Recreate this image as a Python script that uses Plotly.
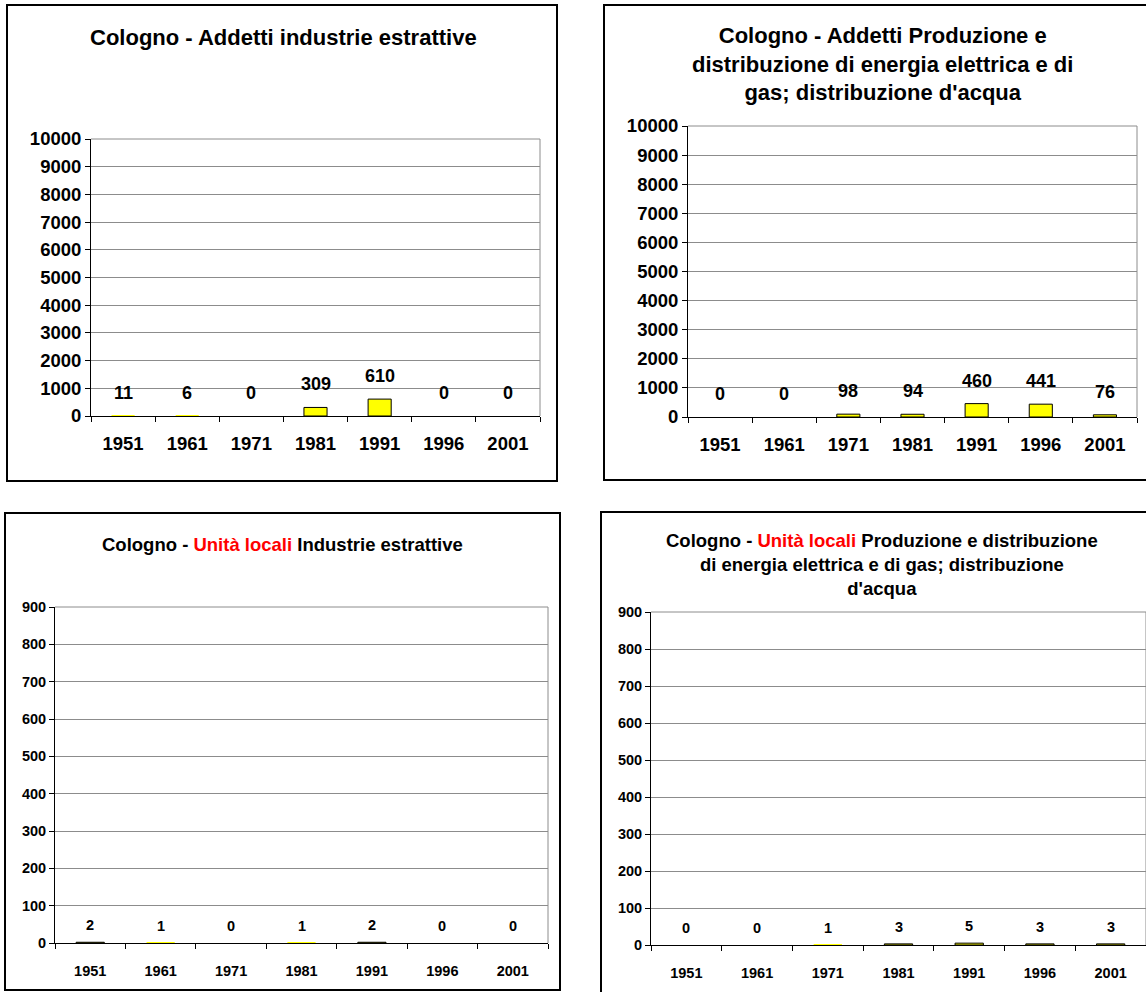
import plotly.graph_objects as go

# Census years and values for Cologno
years = ["1951", "1961", "1971", "1981", "1991", "1996", "2001"]
addetti_estrattive = [11, 6, 0, 309, 610, 0, 0]
addetti_energia = [0, 0, 98, 94, 460, 441, 76]
unita_estrattive = [2, 1, 0, 1, 2, 0, 0]
unita_energia = [0, 0, 1, 3, 5, 3, 3]

title_addetti_estrattive = "Cologno - Addetti industrie estrattive"
title_addetti_energia = ("Cologno - Addetti Produzione e<br>"
                         "distribuzione di energia elettrica e di<br>"
                         "gas; distribuzione d'acqua")
title_unita_estrattive = ("Cologno - <span style='color:#ff0000'>Unità locali</span> "
                          "Industrie estrattive")
title_unita_energia = ("Cologno - <span style='color:#ff0000'>Unità locali</span> "
                       "Produzione e distribuzione<br>"
                       "di energia elettrica e di gas; distribuzione<br>d'acqua")

W, H = 1146, 992
FONT = "Liberation Sans, Arial, sans-serif"

# one slot per census year on the horizontal axis
slots = list(range(len(years)))
boundaries = [s - 0.5 for s in slots] + [slots[-1] + 0.5]

# Layout of each panel in pixels
panels = [
    dict(values=addetti_estrattive, title=title_addetti_estrattive, ymax=10000, dtick=1000,
         plot=(91, 139, 540, 416), box=(7, 5, 557, 481), title_xy=(283, 37),
         title_size=22, tick_size=18.5, label_size=18, label_shift=23, bargap=0.64,
         xstandoff=11),
    dict(values=addetti_energia, title=title_addetti_energia, ymax=10000, dtick=1000,
         plot=(688, 126, 1137, 417), box=(604, 5, 1152, 480), title_xy=(882, 64),
         title_size=22, tick_size=18.5, label_size=18, label_shift=23, bargap=0.64,
         xstandoff=11),
    dict(values=unita_estrattive, title=title_unita_estrattive, ymax=900, dtick=100,
         plot=(55, 607, 548, 943), box=(5, 513, 560, 990), title_xy=(282, 544),
         title_size=18.5, tick_size=14.5, label_size=14.5, label_shift=17, bargap=0.6,
         xstandoff=15),
    dict(values=unita_energia, title=title_unita_energia, ymax=900, dtick=100,
         plot=(651, 612, 1146, 945), box=(601, 512, 1152, 996), title_xy=(882, 564),
         title_size=18.5, tick_size=14.5, label_size=14.5, label_shift=17, bargap=0.6,
         xstandoff=15),
]

fig = go.Figure()
annotations = []
shapes = []

for i, p in enumerate(panels, start=1):
    sfx = "" if i == 1 else str(i)
    x0, y0, x1, y1 = p["plot"]
    tick_font = dict(family=FONT, size=p["tick_size"], color="#000000", weight="bold")
    xa = dict(
        domain=[x0 / W, x1 / W], anchor="y" + sfx, type="linear",
        range=[boundaries[0], boundaries[-1]], autorange=False,
        tickmode="array", tickvals=slots, ticktext=years, tickangle=0,
        ticks="", showgrid=False, zeroline=False, ticklabelstandoff=p["xstandoff"],
        showline=True, linecolor="#000000", linewidth=1,
        minor=dict(tickmode="array", tickvals=boundaries, ticks="outside", ticklen=5,
                   tickcolor="#000000", tickwidth=1, showgrid=False),
        tickfont=tick_font, automargin=False, fixedrange=True,
    )
    ya = dict(
        domain=[1 - y1 / H, 1 - y0 / H], anchor="x" + sfx, type="linear",
        range=[0, p["ymax"]], autorange=False, tickmode="linear", dtick=p["dtick"], tick0=0,
        tickformat="d",
        showgrid=True, gridcolor="#8c8c8c", gridwidth=1, zeroline=False,
        showline=True, linecolor="#000000", linewidth=1,
        ticks="outside", ticklen=5, tickcolor="#000000", tickwidth=1,
        tickfont=tick_font, automargin=False, fixedrange=True,
    )
    fig.update_layout({"xaxis" + sfx: xa, "yaxis" + sfx: ya})

    # bars thinner than half a pixel get no outline, so empty years stay blank
    px_per_unit = (y1 - y0) / p["ymax"]
    outline = [1 if v * px_per_unit >= 0.5 else 0 for v in p["values"]]

    fig.add_trace(go.Bar(
        x=slots, y=p["values"], xaxis="x" + sfx, yaxis="y" + sfx,
        marker=dict(color="#ffff00", line=dict(color="#000000", width=outline)),
        width=1 - p["bargap"], showlegend=False,
        customdata=years, hovertemplate="%{customdata}: %{y}<extra></extra>",
    ))

    # value labels above each bar
    for s, v in zip(slots, p["values"]):
        annotations.append(dict(
            x=s, y=v, xref="x" + sfx, yref="y" + sfx, text=str(v),
            showarrow=False, xanchor="center", yanchor="middle", yshift=p["label_shift"],
            font=dict(family=FONT, size=p["label_size"], color="#000000", weight="bold"),
        ))

    # panel title
    tx, ty = p["title_xy"]
    annotations.append(dict(
        x=tx / W, y=1 - ty / H, xref="paper", yref="paper", text=p["title"],
        showarrow=False, xanchor="center", yanchor="middle", align="center",
        font=dict(family=FONT, size=p["title_size"], color="#000000", weight="bold"),
    ))

    # grey frame on the top and right of the plot area
    shapes.append(dict(type="line", xref="paper", yref="paper",
                       x0=x1 / W, x1=x1 / W, y0=1 - y1 / H, y1=1 - y0 / H,
                       line=dict(color="#8c8c8c", width=1)))
    shapes.append(dict(type="line", xref="paper", yref="paper",
                       x0=x0 / W, x1=x1 / W, y0=1 - y0 / H, y1=1 - y0 / H,
                       line=dict(color="#8c8c8c", width=1)))

    # black outline around the whole panel
    bx0, by0, bx1, by1 = p["box"]
    shapes.append(dict(type="rect", xref="paper", yref="paper",
                       x0=bx0 / W, x1=bx1 / W, y0=1 - by1 / H, y1=1 - by0 / H,
                       line=dict(color="#000000", width=2), fillcolor="rgba(0,0,0,0)"))

fig.update_layout(
    template="none",
    width=W, height=H, autosize=False,
    margin=dict(l=0, r=0, t=0, b=0, pad=0),
    paper_bgcolor="#ffffff", plot_bgcolor="#ffffff",
    font=dict(family=FONT, color="#000000"),
    annotations=annotations, shapes=shapes,
    showlegend=False,
)

fig.write_html("out.html", config={"displayModeBar": False})
